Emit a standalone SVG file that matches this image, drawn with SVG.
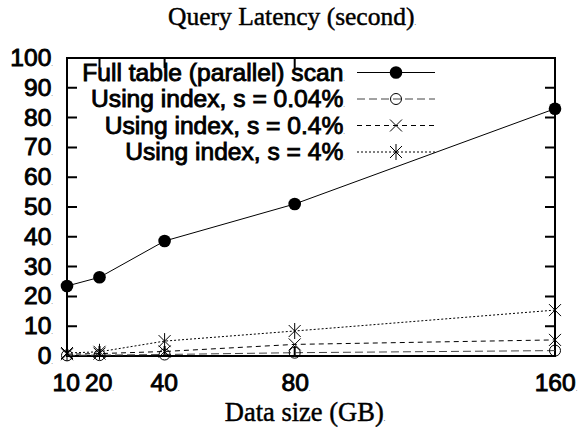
<svg xmlns="http://www.w3.org/2000/svg" width="581" height="435" viewBox="0 0 581 435">
<style>
.lab{font-family:"Liberation Sans",Arial,sans-serif;font-size:24.6px;fill:#000;stroke:#000;stroke-width:0.9}
.ser{font-family:"Liberation Serif","Times New Roman",serif;font-size:25.5px;fill:#000;stroke:#000;stroke-width:0.45}
.d{font-size:6px;stroke:none}
.ax{fill:none;stroke:#000;stroke-width:2}
.full{fill:none;stroke:#000;stroke-width:1}
.s004{fill:none;stroke:#444;stroke-width:1;stroke-dasharray:8,4}
.s04{fill:none;stroke:#000;stroke-width:1;stroke-dasharray:5,4}
.s4{fill:none;stroke:#000;stroke-width:1;stroke-dasharray:2,2}
</style>
<defs>
<circle id="mFull" r="6.3" fill="#000"/>
<circle id="mCirc" r="5.5" fill="none" stroke="#000" stroke-width="1"/>
<path id="mX" d="M-6,-6L6,6M-6,6L6,-6" fill="none" stroke="#000" stroke-width="1"/>
<path id="mStar" d="M-6,-6L6,6M-6,6L6,-6M0,-8L0,8" fill="none" stroke="#000" stroke-width="1"/>
</defs>
<rect width="581" height="435" fill="#fff"/>
<g id="title"><text class="ser" x="292" y="25" text-anchor="middle">Query Latency (second)<tspan class="d">.</tspan></text></g>
<g id="xlabel"><text class="ser" x="305" y="421" text-anchor="middle" style="font-size:26.5px">Data size (GB)<tspan class="d">.</tspan></text></g>
<g id="axes">
<rect class="ax" x="67" y="58" width="488" height="298"/>
<path class="ax" d="M67,326.2h10M67,296.4h10M67,266.6h10M67,236.8h10M67,207h10M67,177.2h10M67,147.4h10M67,117.6h10M67,87.8h10
M555,326.2h-10M555,296.4h-10M555,266.6h-10M555,236.8h-10M555,207h-10M555,177.2h-10M555,147.4h-10M555,117.6h-10M555,87.8h-10
M99.5,58v10M164.6,58v10M294.7,58v10M99.5,356v-10M164.6,356v-10M294.7,356v-10"/>
</g>
<g id="yticks" class="lab" text-anchor="end">
<text x="53" y="364">0<tspan class="d">.</tspan></text>
<text x="53" y="334.2">10<tspan class="d">.</tspan></text>
<text x="53" y="304.4">20<tspan class="d">.</tspan></text>
<text x="53" y="274.6">30<tspan class="d">.</tspan></text>
<text x="53" y="244.8">40<tspan class="d">.</tspan></text>
<text x="53" y="215">50<tspan class="d">.</tspan></text>
<text x="53" y="185.2">60<tspan class="d">.</tspan></text>
<text x="53" y="155.4">70<tspan class="d">.</tspan></text>
<text x="53" y="125.6">80<tspan class="d">.</tspan></text>
<text x="53" y="95.8">90<tspan class="d">.</tspan></text>
<text x="53" y="66">100<tspan class="d">.</tspan></text>
</g>
<g id="xticks" class="lab" text-anchor="middle">
<text x="67" y="391">10<tspan class="d">.</tspan></text>
<text x="99.5" y="391">20<tspan class="d">.</tspan></text>
<text x="165" y="391">40<tspan class="d">.</tspan></text>
<text x="296" y="391">80<tspan class="d">.</tspan></text>
<text x="556" y="391">160<tspan class="d">.</tspan></text>
</g>
<g id="connectors">
<polyline class="full" points="67,286 99.5,277.3 164.6,241 294.7,204 555,108.7"/>
<polyline class="s004" points="67,355.4 99.5,355.1 164.6,354.5 294.7,352.7 555,350.6"/>
<polyline class="s04" points="67,354.2 99.5,353.6 164.6,351.5 294.7,344.4 555,339.9"/>
<polyline class="s4" points="67,353 99.5,351.8 164.6,341.1 294.7,331 555,310.1"/>
</g>
<g id="series-full">
<use href="#mFull" x="67" y="286"/><use href="#mFull" x="99.5" y="277.3"/><use href="#mFull" x="164.6" y="241"/><use href="#mFull" x="294.7" y="204"/><use href="#mFull" x="555" y="108.7"/>
</g>
<g id="series-004">
<use href="#mCirc" x="67" y="355.4"/><use href="#mCirc" x="99.5" y="355.1"/><use href="#mCirc" x="164.6" y="354.5"/><use href="#mCirc" x="294.7" y="352.7"/><use href="#mCirc" x="555" y="350.6"/>
</g>
<g id="series-04">
<use href="#mX" x="67" y="354.2"/><use href="#mX" x="99.5" y="353.6"/><use href="#mX" x="164.6" y="351.5"/><use href="#mX" x="294.7" y="344.4"/><use href="#mX" x="555" y="339.9"/>
</g>
<g id="series-4">
<use href="#mStar" x="67" y="353"/><use href="#mStar" x="99.5" y="351.8"/><use href="#mStar" x="164.6" y="341.1"/><use href="#mStar" x="294.7" y="331"/><use href="#mStar" x="555" y="310.1"/>
</g>
<g id="legend">
<g class="lab" text-anchor="end">
<text x="345" y="80.5">Full table (parallel) scan<tspan class="d">.</tspan></text>
<text x="345" y="107">Using index, s = 0.04%<tspan class="d">.</tspan></text>
<text x="345" y="133.5">Using index, s = 0.4%<tspan class="d">.</tspan></text>
<text x="345" y="160">Using index, s = 4%<tspan class="d">.</tspan></text>
</g>
<line class="full" x1="357" y1="72.5" x2="435" y2="72.5"/><use href="#mFull" x="396" y="72.5"/>
<line class="s004" x1="357" y1="99" x2="435" y2="99"/><use href="#mCirc" x="396" y="99"/>
<line class="s04" x1="357" y1="125.5" x2="435" y2="125.5"/><use href="#mX" x="396" y="125.5"/>
<line class="s4" x1="357" y1="152" x2="435" y2="152"/><use href="#mStar" x="396" y="152"/>
</g>
</svg>
